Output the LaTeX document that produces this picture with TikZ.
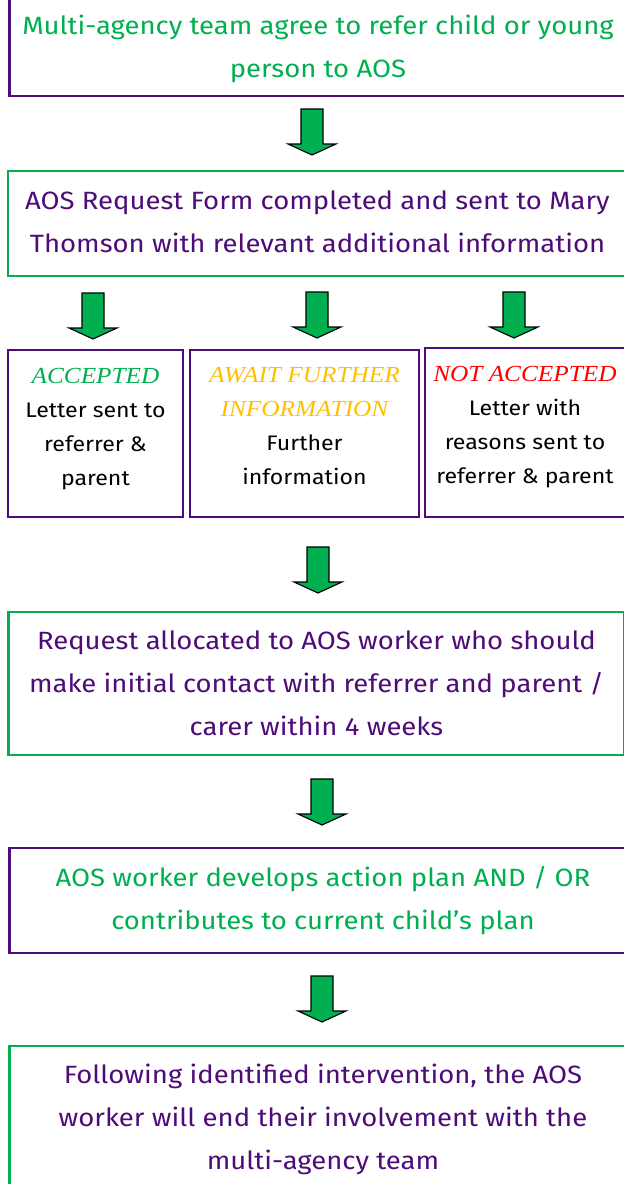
\documentclass[tikz,border=0pt]{standalone}
\usepackage{fontspec}
\setmainfont[FakeStretch=1.1]{Fira Sans}
\newfontfamily\headfont[FakeStretch=1.1]{Liberation Serif}
\usetikzlibrary{calc}
\definecolor{agreen}{RGB}{0,176,80}
\definecolor{apurple}{RGB}{78,12,120}
\definecolor{agold}{RGB}{255,192,0}
\definecolor{ared}{RGB}{255,0,0}
\newcommand{\hd}[2]{{\fontsize{23}{34}\selectfont\headfont\itshape\color{#1}#2}}
\tikzset{
  bigtext/.style={font=\fontsize{25}{43}\selectfont, align=center},
  smalltext/.style={font=\fontsize{21}{34}\selectfont, align=center, text=black},
  pbox/.style={draw=apurple, line width=2.5pt, inner sep=0pt},
  gbox/.style={draw=agreen, line width=2.5pt, inner sep=0pt},
  barrow/.pic={\draw[fill=agreen, draw=black, line width=1.1pt, line join=miter]
    (-11,0) -- (11,0) -- (11,35) -- (24,35) -- (0,46) -- (-24,35) -- (-11,35) -- cycle;}
}
\begin{document}
\begin{tikzpicture}[x=1pt,y=-1pt]
\clip (0,0) rectangle (624,1184);
\fill[white] (0,0) rectangle (624,1184);
% boxes
\node[pbox, minimum width=617, minimum height=110] (b1) at (318,41) {};
\node[bigtext, text=agreen] (t1) at ($(b1.center)+(0,8)$)
  {Multi-agency team agree to refer child or young\\person to AOS};
\node[gbox, minimum width=619, minimum height=105] (b2) at (317.5,223.5) {};
\node[bigtext, text=apurple] (t2) at ($(b2.center)+(0,-2)$)
  {AOS Request Form completed and sent to Mary\\Thomson with relevant additional information};
\node[pbox, minimum width=175, minimum height=167] (ba) at (95.5,433.5) {};
\node[smalltext] (ta) at ($(ba.center)+(0,-4)$)
  {\hd{agreen}{ACCEPTED}\\Letter sent to\\referrer \&\\parent};
\node[pbox, minimum width=229, minimum height=167] (bb) at (304.5,433.5) {};
\node[smalltext] (tb) at ($(bb.center)+(0,-7)$)
  {\hd{agold}{AWAIT FURTHER}\\\hd{agold}{INFORMATION}\\Further\\information};
\node[pbox, minimum width=200, minimum height=169] (bc) at (525,432.5) {};
\node[smalltext] (tc) at ($(bc.center)+(0,-5)$)
  {\hd{ared}{NOT ACCEPTED}\\Letter with\\reasons sent to\\referrer \& parent};
\node[gbox, minimum width=616, minimum height=143] (b4) at (316.5,683.5) {};
\node[bigtext, text=apurple] (t4) at (b4.center)
  {Request allocated to AOS worker who should\\make initial contact with referrer and parent /\\carer within 4 weeks};
\node[pbox, minimum width=627, minimum height=105] (b5) at (323,900.5) {};
\node[bigtext, text=agreen] (t5) at (b5.center)
  {AOS worker develops action plan AND / OR\\contributes to current child’s plan};
\node[gbox, minimum width=627, minimum height=146] (b6) at (323,1119) {};
\node[bigtext, text=apurple] (t6) at (b6.center)
  {Following identified intervention, the AOS\\worker will end their involvement with the\\multi-agency team};
% arrows
\pic at (312,109) {barrow};
\pic at (93,293) {barrow};
\pic at (317,292) {barrow};
\pic at (514,292) {barrow};
\pic at (318,547) {barrow};
\pic at (322,779) {barrow};
\pic at (322,976) {barrow};
\end{tikzpicture}
\end{document}
